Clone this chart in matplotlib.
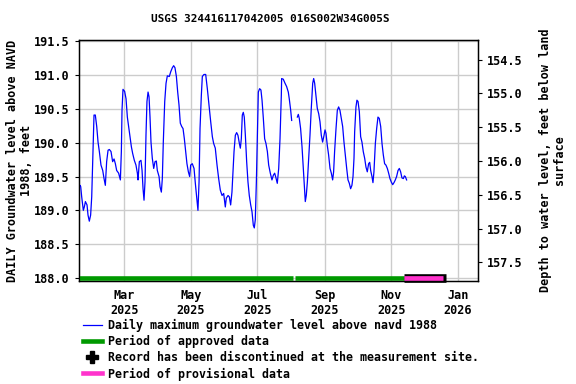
import matplotlib
matplotlib.use("Agg")
import matplotlib.pyplot as plt
import matplotlib.dates as mdates
from matplotlib.lines import Line2D
import numpy as np
import pandas as pd

# ---------------- data ----------------
title = "USGS 324416117042005 016S002W34G005S"
left_label = "DAILY Groundwater level above NAVD\n1988, feet"
right_label = "Depth to water level, feet below land\nsurface"

# day offsets from 2025-01-01
day_offsets = [
    17.1, 18.4, 19.0, 19.9, 21.4, 22.3, 23.3, 24.8, 25.7, 26.9, 28.1, 29.1, 30.0, 31.2, 32.4,
    33.7, 34.9, 36.1, 37.6, 39.2, 40.4, 41.6, 42.8, 44.1, 45.3, 46.8, 48.3, 49.6, 50.8, 52.0,
    53.8, 55.4, 56.3, 56.9, 57.8, 59.3, 60.6, 61.8, 63.0, 64.2, 65.5, 66.7, 68.2, 69.7, 71.0,
    71.6, 72.8, 74.3, 75.3, 76.2, 77.1,
    78.0, 78.9, 79.8, 80.8, 81.7, 82.6, 83.5, 84.7, 86.0, 87.2, 88.4, 89.3, 90.9, 91.8, 93.0,
    93.9, 94.8, 96.1, 97.3, 98.5, 100.3, 101.6, 103.1, 104.3, 105.5, 106.8, 108.0, 109.2, 110.4,
    111.7, 112.9, 114.1, 115.3, 116.5, 117.8, 119.0, 119.9, 121.4, 123.0, 124.2, 125.4, 126.6,
    127.6, 128.5, 129.7, 130.6, 132.1, 133.7, 135.2, 136.7, 138.3, 139.8,
    141.0, 142.5, 144.1, 145.6, 147.1, 148.7, 150.2, 151.7, 152.6, 154.2, 155.4, 156.6, 157.8,
    158.7, 159.7, 160.9, 162.1, 163.3, 164.6, 165.5, 166.4, 167.3, 168.2, 169.1, 170.1, 171.3,
    172.5, 173.7, 175.0, 176.2, 177.4, 178.3, 179.2, 180.2, 181.1, 182.0, 183.2, 184.4, 185.4,
    186.6, 187.8, 189.0, 190.3, 191.5, 193.0, 194.5, 195.8, 197.0, 198.2, 199.4, 200.7, 201.9,
    203.1, 203.4, 204.9, 206.5, 208.0, 209.5, 210.4, 211.7, 212.6,
    215.0,
    217.8, 218.7, 219.6, 220.8, 222.1, 223.3, 224.2, 225.1, 226.0, 227.0, 228.2, 229.4, 230.6,
    231.9, 232.8, 233.7, 234.9, 236.1, 237.4, 238.6, 239.8, 241.0, 242.3, 243.2, 244.1, 245.3,
    246.5, 247.8, 249.0, 250.2, 251.1, 252.0, 253.3, 254.5, 255.7, 256.9, 258.2, 259.4, 260.6,
    261.8, 263.1, 264.3, 265.5,
    266.7, 267.9, 268.9, 269.8, 270.4, 271.6, 272.5, 273.5, 274.7, 275.9, 277.1, 278.3, 279.6,
    280.8, 282.0, 283.2, 284.2, 285.1, 286.3, 287.2, 288.1, 289.4, 290.6, 291.8, 293.0, 294.3,
    295.5, 296.7, 297.9, 299.1, 300.4, 301.6, 302.8, 304.0, 305.3, 306.5, 307.7, 308.9, 310.2,
    311.4, 312.6, 313.8, 315.1, 316.0, 316.9, 318.1,
]
levels = [
    189.32, 189.37, 189.35, 189.20, 189.00, 189.05, 189.13, 189.08, 188.93, 188.84, 188.93, 189.20, 189.74, 190.41, 190.41,
    190.24, 190.01, 189.87, 189.67, 189.59, 189.47, 189.37, 189.72, 189.89, 189.90, 189.87, 189.72, 189.76, 189.69, 189.59,
    189.55, 189.45, 189.87, 190.48, 190.79, 190.76, 190.65, 190.38, 190.24, 190.09, 189.94, 189.84, 189.74, 189.67, 189.55,
    189.45, 189.72, 189.74, 189.59, 189.32, 189.15,
    189.42, 190.11, 190.61, 190.75, 190.68, 190.38, 190.01, 189.77, 189.62, 189.72, 189.73, 189.59, 189.50, 189.35, 189.27,
    189.47, 190.01, 190.61, 190.88, 190.99, 190.98, 191.05, 191.11, 191.14, 191.11, 190.98, 190.75, 190.56, 190.29,
    190.24, 190.21, 190.06, 189.87, 189.69, 189.57, 189.50, 189.67, 189.69, 189.62, 189.40, 189.20, 189.00,
    189.42, 190.21, 190.70, 190.98, 191.01, 191.01, 190.80, 190.56, 190.31, 190.09,
    189.99, 189.92, 189.67, 189.47, 189.30, 189.22, 189.25, 189.05, 189.18, 189.22, 189.20, 189.08, 189.27,
    189.55, 189.87, 190.11, 190.15, 190.11, 189.99, 189.92, 190.06, 190.41, 190.45, 190.38, 190.11, 189.72,
    189.42, 189.22, 189.08, 188.98, 188.78, 188.74, 188.86, 189.42, 190.11, 190.75, 190.80, 190.78, 190.63,
    190.36, 190.06, 189.99, 189.87, 189.67, 189.55, 189.45, 189.52, 189.55, 189.48, 189.40, 189.62, 190.06,
    190.70, 190.95, 190.94, 190.88, 190.83, 190.75, 190.65, 190.48, 190.33,
    np.nan,
    190.38, 190.42, 190.36, 190.21, 189.94, 189.62, 189.37, 189.13, 189.22, 189.42, 189.77, 190.11, 190.51,
    190.88, 190.95, 190.88, 190.70, 190.51, 190.43, 190.31, 190.11, 190.01, 190.11, 190.19, 190.14, 189.96,
    189.82, 189.62, 189.55, 189.45, 189.57, 189.87, 190.21, 190.48, 190.53, 190.48, 190.36, 190.24, 190.01,
    189.82, 189.62, 189.45, 189.40,
    189.32, 189.37, 189.50, 189.77, 190.16, 190.53, 190.63, 190.61, 190.46, 190.09, 190.01, 189.87, 189.77,
    189.64, 189.57, 189.69, 189.71, 189.59, 189.50, 189.41, 189.57, 189.99, 190.21, 190.38, 190.36, 190.24,
    189.99, 189.82, 189.69, 189.67, 189.62, 189.55, 189.47, 189.42, 189.38, 189.41, 189.45, 189.50, 189.59,
    189.62, 189.57, 189.48, 189.47, 189.51, 189.50, 189.45,
]

# approval periods (day offsets from 2025-01-01)
approved_periods = [(17.4, 213.7), (215.4, 315.7)]
provisional_period = (315.7, 351.5)
discontinued_period = (315.7, 354.0)
approved_level = 188.0

left_ticks = [188.0, 188.5, 189.0, 189.5, 190.0, 190.5, 191.0, 191.5]
right_ticks = [154.5, 155.0, 155.5, 156.0, 156.5, 157.0, 157.5]
datum_offset = 345.73  # depth = datum_offset - level
x_tick_dates = ["2025-03-01", "2025-05-01", "2025-07-01", "2025-09-01", "2025-11-01", "2026-01-01"]
x_tick_labels = ["Mar\n2025", "May\n2025", "Jul\n2025", "Sep\n2025", "Nov\n2025", "Jan\n2026"]

legend_labels = [
    "Daily maximum groundwater level above navd 1988",
    "Period of approved data",
    "Record has been discontinued at the measurement site.",
    "Period of provisional data",
]

# ---------------- drawing ----------------
FONT = "DejaVu Sans Mono"
plt.rcParams["font.family"] = FONT
plt.rcParams["font.weight"] = "bold"

base = pd.Timestamp("2025-01-01")
def to_dates(offs):
    return base + pd.to_timedelta(np.asarray(offs, dtype=float), unit="D")

fig = plt.figure(figsize=(5.76, 3.84), dpi=100)
ax = fig.add_axes([79 / 576, 1 - 281 / 384, 399 / 576, 241 / 384])

ax.plot(to_dates(day_offsets), levels, color="#0000ff", lw=0.9, zorder=3)

for a, b in approved_periods:
    ax.plot(to_dates([a, b]), [approved_level, approved_level], color="#009900",
            lw=3.3, solid_capstyle="butt", zorder=4, clip_on=False)
ax.plot(to_dates(list(discontinued_period)), [approved_level, approved_level], color="black",
        lw=6.2, solid_capstyle="butt", zorder=5, clip_on=False)
ax.plot(to_dates(list(provisional_period)), [approved_level, approved_level], color="#ff33cc",
        lw=3.4, solid_capstyle="butt", zorder=6, clip_on=False)

ylo, yhi = 187.955, 191.52
ax.set_ylim(ylo, yhi)
ax.set_xlim(to_dates([17.43])[0], to_dates([383.6])[0])
ax.set_yticks(left_ticks)
ax.set_yticklabels([f"{v:.1f}" for v in left_ticks])
ax.set_xticks(pd.to_datetime(x_tick_dates))
ax.set_xticklabels(x_tick_labels)
ax.grid(True, color="#cccccc", lw=1.0)
ax.set_axisbelow(True)
ax.tick_params(axis="both", labelsize=8.5, length=3, width=0.8)
ax.tick_params(axis="x", length=0, pad=6)
for s in ax.spines.values():
    s.set_linewidth(1.0)
ax.set_ylabel(left_label, fontsize=8.5, fontweight="bold", labelpad=1, linespacing=1.05)
fig.text(270.5 / 576, 1 - 19 / 384, title, fontsize=7.9, fontweight="bold",
         ha="center", va="center")

ax2 = ax.twinx()
ax2.set_ylim(datum_offset - ylo, datum_offset - yhi)
ax2.set_yticks(right_ticks)
ax2.set_yticklabels([f"{v:.1f}" for v in right_ticks])
ax2.tick_params(axis="y", labelsize=8.5, length=3, width=0.8)
ax2.set_ylabel(right_label, fontsize=8.5, fontweight="bold", labelpad=12, linespacing=1.05)

handles = [
    Line2D([], [], color="#0000ff", lw=0.9),
    Line2D([], [], color="#009900", lw=3.3),
    Line2D([], [], color="black", marker="P", markersize=8, linestyle="None"),
    Line2D([], [], color="#ff33cc", lw=3.3),
]
fig.legend(handles, legend_labels, loc="upper left", bbox_to_anchor=(83 / 576, 1 - 318.5 / 384),
           frameon=False, fontsize=8.4, handlelength=1.6, handletextpad=0.55,
           labelspacing=0.28, borderaxespad=0, borderpad=0)

fig.savefig("out.png", dpi=100)
